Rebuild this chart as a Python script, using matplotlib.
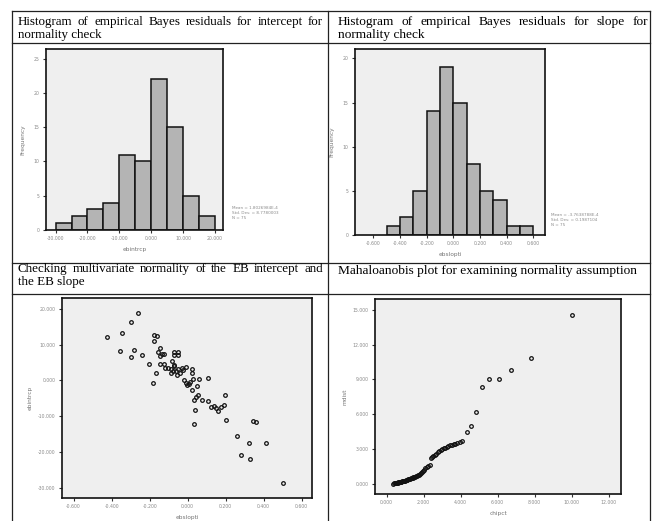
import matplotlib
matplotlib.use('Agg')
import numpy as np
import matplotlib.pyplot as plt
from matplotlib.lines import Line2D

# histogram of EB residuals for the intercept
int_edges = [-30, -25, -20, -15, -10, -5, 0, 5, 10, 15, 20]
int_counts = [1, 2, 3, 4, 11, 10, 22, 15, 5, 2]
int_stats = ['Mean = 1.8026984E-4', 'Std. Dev. = 8.7780003', 'N = 75']

# histogram of EB residuals for the slope
slope_edges = [-0.5, -0.4, -0.3, -0.2, -0.1, 0.0, 0.1, 0.2, 0.3, 0.4, 0.5, 0.6]
slope_counts = [1, 2, 5, 14, 19, 15, 8, 5, 4, 1, 1]
slope_stats = ['Mean = -3.7638788E-4', 'Std. Dev. = 0.1987104', 'N = 75']

# EB slope vs EB intercept
ebslope = [-0.425, -0.358, -0.346, -0.298, -0.263, -0.298, -0.281, -0.242, -0.202, -0.182,
           -0.175, -0.161, -0.175, -0.165, -0.158, -0.144, -0.147, -0.135, -0.125, -0.147,
           -0.126, -0.119, -0.102, -0.088, -0.079, -0.082, -0.074, -0.070, -0.049, -0.074,
           -0.049, -0.070, -0.061, -0.088, -0.053, -0.030, -0.039, -0.025, -0.056, -0.021,
           -0.007, -0.004, 0.007, 0.014, 0.025, 0.023, 0.026, 0.025, 0.032, 0.037,
           0.033, 0.049, 0.053, 0.046, 0.075, 0.105, 0.109, 0.123, 0.137, 0.151,
           0.158, 0.175, 0.191, 0.198, 0.200, 0.260, 0.282, 0.325, 0.326, 0.342,
           0.361, 0.412, 0.500, 0.060, -0.010]
ebintrcp = [12.0, 8.1, 13.1, 16.3, 18.8, 6.4, 8.4, 7.1, 4.5, -0.6,
            12.7, 12.5, 10.9, 2.0, 7.8, 9.0, 6.9, 7.3, 7.4, 4.7,
            4.7, 3.4, 3.4, 3.2, 2.7, 5.5, 4.4, 7.8, 7.8, 7.0,
            7.0, 3.9, 2.5, 2.0, 3.2, 3.6, 2.2, 3.0, 1.4, 0.0,
            -0.7, -1.4, -1.0, -0.3, 3.3, 2.0, 0.5, -2.8, -5.4, -8.2,
            -12.2, -1.6, -4.0, -4.5, -5.4, 0.8, -5.7, -7.3, -7.1, -7.7,
            -8.4, -7.3, -6.8, -4.2, -10.9, -15.4, -20.7, -17.4, -21.9, -11.4,
            -11.6, -17.4, -28.7, 0.3, 3.8]

# Mahalanobis distance vs chi-square quantile
chipct = [0.36, 0.40, 0.44, 0.48, 0.52, 0.56, 0.60, 0.64, 0.68, 0.72,
          0.76, 0.80, 0.84, 0.88, 0.92, 0.96, 1.00, 1.04, 1.08, 1.12,
          1.16, 1.20, 1.25, 1.30, 1.35, 1.40, 1.45, 1.50, 1.55, 1.60,
          1.65, 1.70, 1.75, 1.80, 1.86, 1.92, 1.98, 2.04, 2.10, 2.16,
          2.24, 2.32, 2.40, 2.46, 2.53, 2.60, 2.68, 2.76, 2.84, 2.92,
          3.00, 3.08, 3.16, 3.25, 3.34, 3.43, 3.52, 3.62, 3.72, 3.82,
          3.94, 4.09, 4.32, 4.54, 4.83, 5.17, 5.55, 6.05, 6.72, 7.78, 10.0]
mdist = [0.00, 0.02, 0.04, 0.05, 0.07, 0.08, 0.10, 0.11, 0.13, 0.15,
         0.16, 0.18, 0.19, 0.21, 0.23, 0.25, 0.27, 0.29, 0.32, 0.34,
         0.37, 0.39, 0.42, 0.45, 0.48, 0.52, 0.55, 0.58, 0.61, 0.65,
         0.69, 0.73, 0.77, 0.81, 0.90, 1.00, 1.10, 1.22, 1.32, 1.42,
         1.52, 1.62, 2.22, 2.28, 2.38, 2.48, 2.60, 2.72, 2.82, 2.90,
         2.96, 3.04, 3.10, 3.16, 3.22, 3.30, 3.36, 3.42, 3.45, 3.50,
         3.56, 3.72, 4.50, 4.96, 6.23, 8.39, 9.03, 9.06, 9.81, 10.82, 14.54]

# (lines, left px, right px, first baseline px, font size)
headers = [
    (['Histogram of empirical Bayes residuals for intercept for', 'normality check'], 18, 323, 25, 9.4),
    (['Histogram of empirical Bayes residuals for slope for', 'normality check'], 338, 648, 25, 9.6),
    (['Checking multivariate normality of the EB intercept and', 'the EB slope'], 18, 323, 272, 9.4),
    (['Mahaloanobis plot for examining normality assumption'], 338, 648, 274, 9.6),
]

W, H = 655, 521
fig = plt.figure(figsize=(W / 100, H / 100), dpi=100)
renderer = fig.canvas.get_renderer()
serif = 'Liberation Serif'


def px(x, y):
    return x / W, 1 - y / H


# table grid
for y in [11, 43, 263, 294]:
    fig.add_artist(Line2D([12 / W, 650 / W], [1 - y / H] * 2, color='#222222', lw=0.9))
for x in [12, 328, 650]:
    fig.add_artist(Line2D([x / W] * 2, [1 - 11 / H, 0], color='#222222', lw=0.9))

# header text, first line justified like in the word document
for lines, x0, x1, y0, hsize in headers:
    for k, line in enumerate(lines):
        yy = y0 + k * 13.5
        words = line.split()
        if k == len(lines) - 1:
            fig.text(*px(x0, yy), line, family=serif, fontsize=hsize, va='baseline')
            continue
        arts = [fig.text(0, 0, w, family=serif, fontsize=hsize, va='baseline') for w in words]
        widths = [a.get_window_extent(renderer).width for a in arts]
        gap = (x1 - x0 - sum(widths)) / (len(words) - 1)
        xx = x0
        for a, wd in zip(arts, widths):
            a.set_position(px(xx, yy))
            xx += wd + gap

bg = '#efefef'
tick_col = '#8a8a8a'


def style(ax):
    ax.set_facecolor(bg)
    for s in ax.spines.values():
        s.set_linewidth(1.2)
        s.set_color('#111111')
    ax.tick_params(direction='out', length=2.5, width=0.8, labelsize=3.3,
                   labelcolor=tick_col, color='#333333', pad=2)


def add_axes(x0, y0, x1, y1):
    return fig.add_axes([x0 / W, 1 - y1 / H, (x1 - x0) / W, (y1 - y0) / H])


# intercept histogram
ax1 = add_axes(46, 49, 223, 230)
ax1.bar(int_edges[:-1], int_counts, width=np.diff(int_edges), align='edge',
        color='#b4b4b4', edgecolor='#111111', linewidth=1.1)
ax1.set_xlim(-33.0, 22.5)
ax1.set_ylim(0, 26.4)
ax1.set_xticks([-30, -20, -10, 0, 10, 20])
ax1.set_xticklabels(['%.3f' % v for v in [-30, -20, -10, 0, 10, 20]])
ax1.set_yticks([0, 5, 10, 15, 20, 25])
ax1.set_xlabel('ebintrcp', fontsize=4.2, color='#777777', labelpad=4)
ax1.set_ylabel('Frequency', fontsize=4.2, color='#777777', labelpad=6)
style(ax1)
fig.text(*px(232, 213), '\n'.join(int_stats), fontsize=3.0, color=tick_col,
         va='center', linespacing=1.3)

# slope histogram
ax2 = add_axes(355, 49, 545, 235)
ax2.bar(slope_edges[:-1], slope_counts, width=np.diff(slope_edges), align='edge',
        color='#b4b4b4', edgecolor='#111111', linewidth=1.1)
ax2.set_xlim(-0.7375, 0.6875)
ax2.set_ylim(0, 21.06)
xt = [-0.6, -0.4, -0.2, 0.0, 0.2, 0.4, 0.6]
ax2.set_xticks(xt)
ax2.set_xticklabels(['%.3f' % v for v in xt])
ax2.set_yticks([0, 5, 10, 15, 20])
ax2.set_xlabel('ebslopti', fontsize=4.2, color='#777777', labelpad=4)
ax2.set_ylabel('Frequency', fontsize=4.2, color='#777777', labelpad=6)
style(ax2)
fig.text(*px(551, 220), '\n'.join(slope_stats), fontsize=3.0, color=tick_col,
         va='center', linespacing=1.3)

# scatter of EB slope vs EB intercept
ax3 = add_axes(62, 298, 312, 498)
ax3.plot(ebslope, ebintrcp, 'o', ms=2.6, mfc='none', mec='#111111', mew=0.9)
ax3.set_xlim(-0.661, 0.654)
ax3.set_ylim(-32.8, 23.0)
ax3.set_xticks(xt)
ax3.set_xticklabels(['%.3f' % v for v in xt])
yt = [-30, -20, -10, 0, 10, 20]
ax3.set_yticks(yt)
ax3.set_yticklabels(['%.3f' % v for v in yt])
ax3.set_xlabel('ebslopti', fontsize=4.2, color='#777777', labelpad=4)
ax3.set_ylabel('ebintrcp', fontsize=4.2, color='#777777', labelpad=4)
style(ax3)

# Mahalanobis plot
ax4 = add_axes(375, 299, 621, 494)
ax4.plot(chipct, mdist, 'o', ms=2.6, mfc='none', mec='#111111', mew=0.9)
ax4.set_xlim(-0.63, 12.67)
ax4.set_ylim(-0.89, 15.95)
xt4 = [0, 2, 4, 6, 8, 10, 12]
ax4.set_xticks(xt4)
ax4.set_xticklabels(['%.3f' % v for v in xt4])
yt4 = [0, 3, 6, 9, 12, 15]
ax4.set_yticks(yt4)
ax4.set_yticklabels(['%.3f' % v for v in yt4])
ax4.set_xlabel('chipct', fontsize=4.2, color='#777777', labelpad=4)
ax4.set_ylabel('mdist', fontsize=4.2, color='#777777', labelpad=4)
style(ax4)

fig.savefig('out.png', dpi=100, facecolor='white')
